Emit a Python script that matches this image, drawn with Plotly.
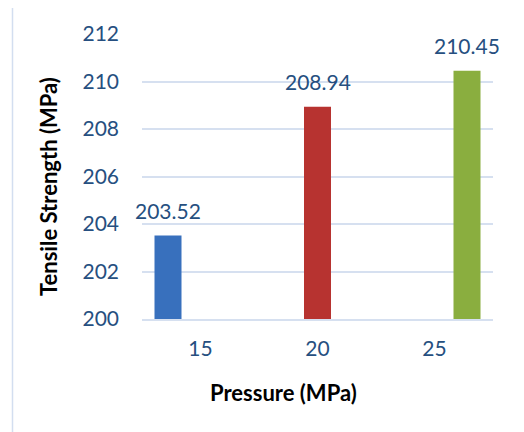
import plotly.graph_objects as go

categories = ["15", "20", "25"]
values = [203.52, 208.94, 210.45]
series_colors = ["#3870bd", "#b73330", "#8aae3f"]
y_ticks = [200, 202, 204, 206, 208, 210, 212]

# page has an 8px body margin, so the figure is drawn 8px smaller and margins compensated
W, H = 516, 424
ml, mr, mt, mb = 134, 31, 26, 113
plot_w = W - ml - mr
plot_h = H - mt - mb
n = len(categories)
cat_px = plot_w / n
bar_w = 27 / cat_px          # bar width in category units
step = 32.5 / cat_px         # spacing between series slots in category units

fig = go.Figure()
for i, (val, col) in enumerate(zip(values, series_colors)):
    ys = [val if j == i else None for j in range(n)]
    fig.add_trace(go.Bar(x=categories, y=ys, width=bar_w, offset=(i - (n - 1) / 2) * step - bar_w / 2,
                         marker=dict(color=col, line=dict(width=0)), showlegend=False))

tick_color = "#264f80"
for i, val in enumerate(values):
    fig.add_annotation(x=i, y=val, xref="x", yref="y", text=f"{val:.2f}",
                       showarrow=False, xshift=(i - (n - 1) / 2) * 32.5, yshift=25,
                       xanchor="center", yanchor="middle",
                       font=dict(family="Lato", size=21, color=tick_color))

fig.add_annotation(x=(40 - ml) / plot_w, y=(311 - 179) / plot_h, xref="paper", yref="paper",
                   text="<b>Tensile Strength (MPa)</b>", textangle=-90, showarrow=False,
                   xanchor="center", yanchor="middle",
                   font=dict(family="Lato", size=22, color="#000000"))
fig.add_annotation(x=(275 - ml) / plot_w, y=(311 - 384) / plot_h, xref="paper", yref="paper",
                   text="<b>Pressure (MPa)</b>", showarrow=False,
                   xanchor="center", yanchor="middle",
                   font=dict(family="Lato", size=22, color="#000000"))

fig.add_shape(type="rect", xref="paper", yref="paper",
              x0=(4.5 - ml) / plot_w, x1=(514 - ml) / plot_w,
              y0=(311 - 440) / plot_h, y1=(311 - -2) / plot_h,
              line=dict(color="#d3def0", width=1.5), fillcolor="rgba(0,0,0,0)", layer="below")

fig.update_layout(
    width=W, height=H, margin=dict(l=ml, r=mr, t=mt, b=mb),
    paper_bgcolor="white", plot_bgcolor="white",
    barmode="overlay",
    font=dict(family="Lato", size=21, color=tick_color),
)
fig.update_xaxes(type="category", range=[-0.5, n - 0.5], showgrid=False, showline=True,
                 linecolor="#d6e0f0", linewidth=1.5,
                 ticks="", ticklabelstandoff=10, tickfont=dict(family="Lato", size=21, color=tick_color))
fig.update_yaxes(range=[200, 212], tickvals=y_ticks, showgrid=True, gridcolor="#d6e0f0", gridwidth=1.5,
                 zeroline=False, showline=False, ticks="", ticklabelstandoff=22,
                 tickfont=dict(family="Lato", size=21, color=tick_color))

fig.write_html("out.html")
